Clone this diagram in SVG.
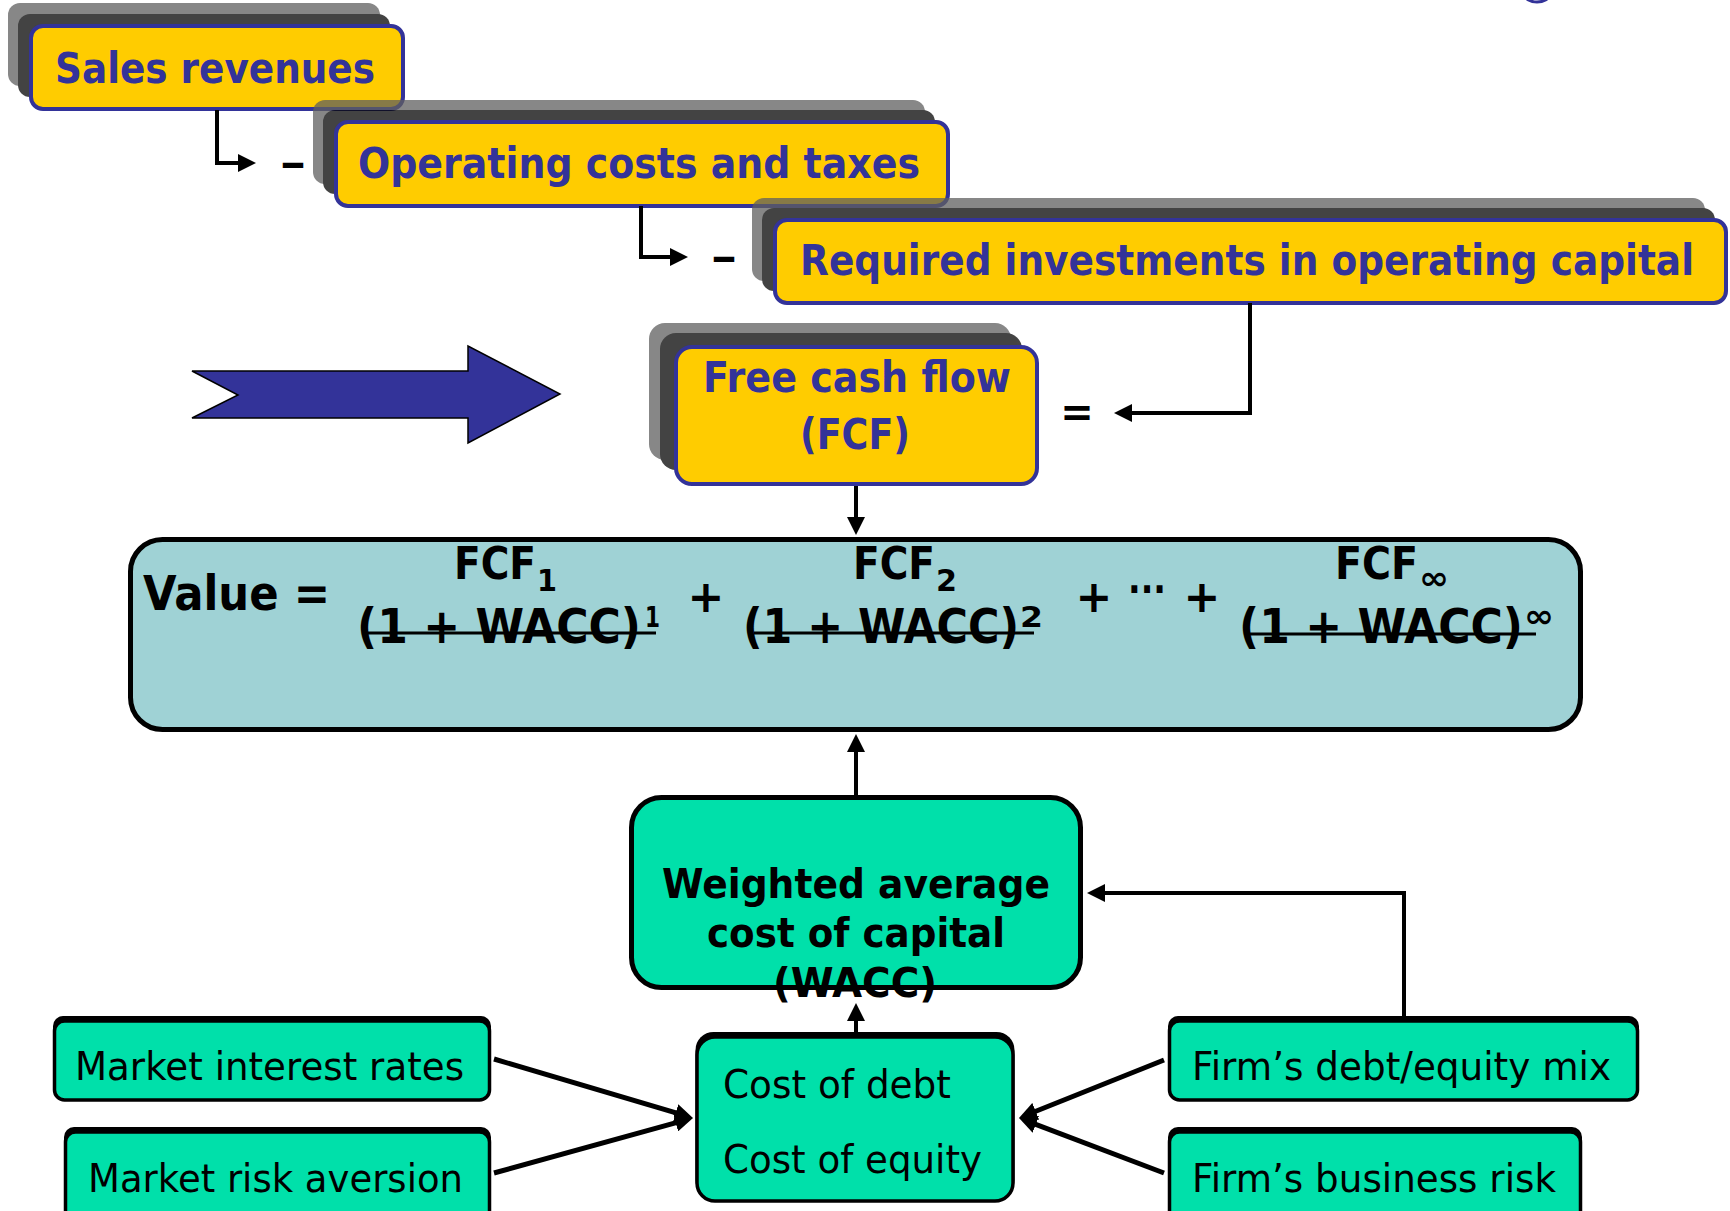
<svg xmlns="http://www.w3.org/2000/svg" width="1730" height="1211" viewBox="0 0 1730 1211">
<style>
  .ybox{fill:#FFCC00;stroke:#333399;stroke-width:4}
  .ytxt{font-family:"DejaVu Sans","Liberation Sans",sans-serif;font-weight:bold;font-size:42px;fill:#333399}
  .shL{fill:#5f5f5f}
  .shD{fill:#050505}
  .btxt{font-family:"DejaVu Sans","Liberation Sans",sans-serif;font-weight:bold;fill:#000}
  .rtxt{font-family:"DejaVu Sans","Liberation Sans",sans-serif;font-size:39px;fill:#000}
  .gbox{fill:#00E0AA;stroke:#000;stroke-width:3.5}
  .gsh{fill:#000}
  .con{fill:none;stroke:#000;stroke-width:4}
  .conT{fill:none;stroke:#000;stroke-width:5}
  .strike{stroke:#000;stroke-width:3}
</style>
<defs>
  <marker id="ah" viewBox="0 0 18 18" refX="10" refY="9" markerWidth="18" markerHeight="18" markerUnits="userSpaceOnUse" orient="auto">
    <path d="M0,0 L18,9 L0,18 z" fill="#000"/>
  </marker>
</defs>

<rect width="1730" height="1211" fill="#fff"/>

<!-- top-right arc fragment -->
<ellipse cx="1537" cy="-5" rx="12" ry="7" fill="none" stroke="#333399" stroke-width="3"/>

<g id="sales">
  <g opacity="0.75">
    <rect class="shL" x="8" y="3" width="372" height="83" rx="12"/>
    <rect class="shD" x="18" y="14" width="372" height="83" rx="12"/>
  </g>
  <rect class="ybox" x="31" y="26" width="372" height="83" rx="12"/>
  <text class="ytxt" x="55" y="83" textLength="320" lengthAdjust="spacingAndGlyphs">Sales revenues</text>
</g>

<g id="operating">
  <g opacity="0.75">
    <rect class="shL" x="313" y="100" width="612" height="84" rx="12"/>
    <rect class="shD" x="323" y="110" width="612" height="84" rx="12"/>
  </g>
  <rect class="ybox" x="336" y="122" width="612" height="84" rx="12"/>
  <text class="ytxt" x="358" y="178" textLength="562" lengthAdjust="spacingAndGlyphs">Operating costs and taxes</text>
</g>

<g id="required">
  <g opacity="0.75">
    <rect class="shL" x="752" y="198" width="953" height="83" rx="12"/>
    <rect class="shD" x="762" y="208" width="953" height="83" rx="12"/>
  </g>
  <rect class="ybox" x="775" y="220" width="951" height="83" rx="12"/>
  <text class="ytxt" x="800" y="275" textLength="894" lengthAdjust="spacingAndGlyphs">Required investments in operating capital</text>
</g>

<g id="bigarrow">
  <polygon points="192,371 468,371 468,346 560,394 468,443 468,418 192,418 238,395" fill="#333399" stroke="#000" stroke-width="1.5"/>
</g>

<g id="fcf">
  <g opacity="0.75">
    <rect class="shL" x="649" y="323" width="362" height="137" rx="16"/>
    <rect class="shD" x="660" y="333" width="362" height="137" rx="16"/>
  </g>
  <rect class="ybox" x="676" y="347" width="361" height="137" rx="16"/>
  <text class="ytxt" x="703" y="392" textLength="308" lengthAdjust="spacingAndGlyphs">Free cash flow</text>
  <text class="ytxt" x="800" y="449" textLength="110" lengthAdjust="spacingAndGlyphs">(FCF)</text>
</g>

<g id="value">
  <rect x="130.5" y="539.5" width="1450" height="190" rx="32" fill="#9FD2D5" stroke="#000" stroke-width="5"/>
  <text class="btxt" x="143" y="610" font-size="48" textLength="187" lengthAdjust="spacingAndGlyphs">Value =</text>
  <text class="btxt" x="454" y="579" font-size="44" textLength="82" lengthAdjust="spacingAndGlyphs">FCF</text>
  <text class="btxt" x="537" y="591" font-size="30" textLength="20" lengthAdjust="spacingAndGlyphs">1</text>
  <text class="btxt" x="357" y="643" font-size="48" textLength="284" lengthAdjust="spacingAndGlyphs">(1 + WACC)</text>
  <text class="btxt" x="645" y="627" font-size="28" textLength="15" lengthAdjust="spacingAndGlyphs">1</text>
  <line class="strike" x1="368" y1="633" x2="656" y2="633"/>
  <text class="btxt" x="706" y="612" font-size="44" text-anchor="middle">+</text>
  <text class="btxt" x="853" y="579" font-size="44" textLength="82" lengthAdjust="spacingAndGlyphs">FCF</text>
  <text class="btxt" x="936" y="591" font-size="30" textLength="21" lengthAdjust="spacingAndGlyphs">2</text>
  <text class="btxt" x="743" y="643" font-size="48" textLength="276" lengthAdjust="spacingAndGlyphs">(1 + WACC)</text>
  <text class="btxt" x="1020" y="627" font-size="28" textLength="23" lengthAdjust="spacingAndGlyphs">2</text>
  <line class="strike" x1="754" y1="633" x2="1034" y2="633"/>
  <text class="btxt" x="1094" y="612" font-size="44" text-anchor="middle">+</text>
  <text class="btxt" x="1128" y="603" font-size="40" textLength="38" lengthAdjust="spacingAndGlyphs">···</text>
  <text class="btxt" x="1202" y="612" font-size="44" text-anchor="middle">+</text>
  <text class="btxt" x="1335" y="579" font-size="44" textLength="83" lengthAdjust="spacingAndGlyphs">FCF</text>
  <text class="btxt" x="1419" y="589" font-size="32" textLength="30" lengthAdjust="spacingAndGlyphs">∞</text>
  <text class="btxt" x="1239" y="643" font-size="48" textLength="284" lengthAdjust="spacingAndGlyphs">(1 + WACC)</text>
  <text class="btxt" x="1524" y="627" font-size="32" textLength="30" lengthAdjust="spacingAndGlyphs">∞</text>
  <line class="strike" x1="1248" y1="634" x2="1536" y2="634"/>
</g>

<g id="wacc">
  <rect x="631.5" y="797.5" width="449" height="190" rx="30" fill="#00E0AA" stroke="#000" stroke-width="5"/>
  <text class="btxt" x="662" y="898" font-size="41" textLength="388" lengthAdjust="spacingAndGlyphs">Weighted average</text>
  <text class="btxt" x="707" y="947" font-size="41" textLength="298" lengthAdjust="spacingAndGlyphs">cost of capital</text>
  <text class="btxt" x="773" y="997" font-size="41" textLength="164" lengthAdjust="spacingAndGlyphs">(WACC)</text>
</g>

<g id="market-interest">
  <rect class="gsh" x="53" y="1016" width="438" height="82" rx="10"/>
  <rect class="gbox" x="54.5" y="1021" width="435" height="79" rx="10"/>
  <text class="rtxt" x="75" y="1080" textLength="389" lengthAdjust="spacingAndGlyphs">Market interest rates</text>
</g>

<g id="market-risk">
  <rect class="gsh" x="64" y="1127" width="427" height="100" rx="10"/>
  <rect class="gbox" x="65.5" y="1132" width="424" height="100" rx="10"/>
  <text class="rtxt" x="88" y="1192" textLength="375" lengthAdjust="spacingAndGlyphs">Market risk aversion</text>
</g>

<g id="cost">
  <rect class="gsh" x="695.5" y="1032" width="319" height="166" rx="18"/>
  <rect class="gbox" x="697" y="1037" width="316" height="164" rx="18"/>
  <text class="rtxt" x="723" y="1098" textLength="228" lengthAdjust="spacingAndGlyphs">Cost of debt</text>
  <text class="rtxt" x="723" y="1173" textLength="259" lengthAdjust="spacingAndGlyphs">Cost of equity</text>
</g>

<g id="firm-mix">
  <rect class="gsh" x="1168" y="1016" width="471" height="82" rx="10"/>
  <rect class="gbox" x="1169.5" y="1021" width="468" height="79" rx="10"/>
  <text class="rtxt" x="1192" y="1080" textLength="419" lengthAdjust="spacingAndGlyphs">Firm’s debt/equity mix</text>
</g>

<g id="firm-risk">
  <rect class="gsh" x="1168" y="1127" width="414" height="100" rx="10"/>
  <rect class="gbox" x="1169.5" y="1132" width="411" height="100" rx="10"/>
  <text class="rtxt" x="1192" y="1192" textLength="364" lengthAdjust="spacingAndGlyphs">Firm’s business risk</text>
</g>

<g id="connectors">
  <path class="con" d="M217 110 V163 H248" marker-end="url(#ah)"/>
  <text class="btxt" x="280" y="177" font-size="40" textLength="26" lengthAdjust="spacingAndGlyphs">–</text>
  <path class="con" d="M641 206 V257 H680" marker-end="url(#ah)"/>
  <text class="btxt" x="711" y="271" font-size="40" textLength="26" lengthAdjust="spacingAndGlyphs">–</text>
  <path class="con" d="M1250 303 V413 H1122" marker-end="url(#ah)"/>
  <text class="btxt" x="1077" y="426" font-size="40" text-anchor="middle">=</text>
  <path class="con" d="M856 486 V527" marker-end="url(#ah)"/>
  <path class="con" d="M856 795 V742" marker-end="url(#ah)"/>
  <path class="con" d="M856 1033 V1011" marker-end="url(#ah)"/>
  <path class="con" d="M1404 1017 V893 H1095" marker-end="url(#ah)"/>
  <path class="conT" d="M494 1059 L685.3 1115.7" marker-end="url(#ah)"/>
  <path class="conT" d="M494 1173 L685.3 1120.1" marker-end="url(#ah)"/>
  <path class="conT" d="M1164 1060 L1026.4 1115" marker-end="url(#ah)"/>
  <path class="conT" d="M1164 1173 L1026.5 1120.8" marker-end="url(#ah)"/>
</g>
</svg>
